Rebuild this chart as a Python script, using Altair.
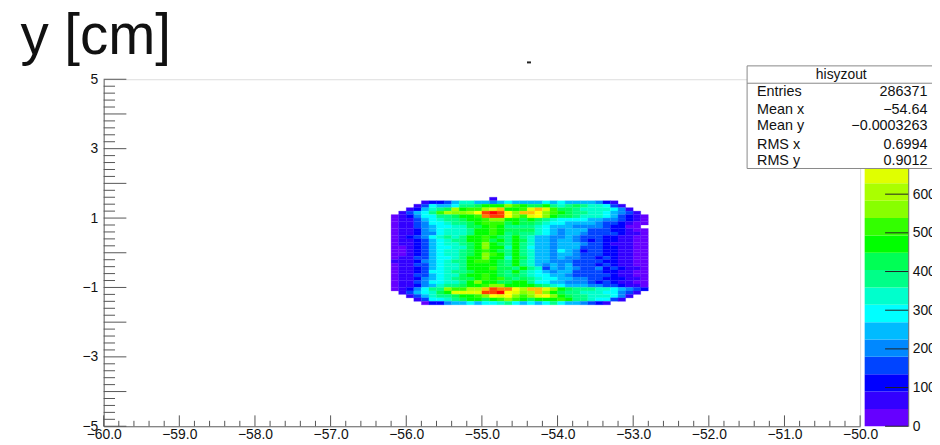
import altair as alt
import pandas as pd

# Contour level (base 20) of each 0.1 x 0.1 cm cell, row by row from the top; space = empty cell
ROWS = [
    "             1",
    "    12235775545655556565555421",
    "   1365568889aaacba99a87089",
    "  125789dabbdegaabege9987777641",
    " 135 ",
]
ROWS = [
    "             1",
    "    12235775545655556565555421",
    "   136556889aaacba99a878 98776 31".replace(" ", ""),
    "  125789dabbdegaabegeb9987777641",
    " 13568bdccdfijifcggfcba98877654 31".replace(" ", ""),
    "012466889aabhiifcbefca99877765 3210".replace(" ", ""),
    "0113567889aabccaa9a98766665544 3210".replace(" ", ""),
    "01134667889abbb9a99876655554 33 2100".replace(" ", ""),
    "0113456677 99aba88887655 54444 32 200".replace(" ", ""),
    "01124567778aaba9999765 45553332 2100".replace(" ", ""),
    "0112446777 8aaba8988765 45543333 2110".replace(" ", ""),
    "0123467878aaba98a8755445 433322 1100".replace(" ", ""),
    "01123567 88aab9a8a975545 5432 32211 00".replace(" ", ""),
    "011235677 89ac a98a87554 55543321 1100".replace(" ", ""),
    "0012356 6779ac aa7a865545553 3322 1100".replace(" ", ""),
    "00123567789ab a98a87554 654 233 2 21100".replace(" ", ""),
    "0012356778 9acba8a87554 55433 32 21100".replace(" ", ""),
    "0113356 678aac aa7a975 54 54433 2 321100".replace(" ", ""),
    "1112456 788abba98a87554 44 33332 21100".replace(" ", ""),
    "0113356 778aaaa98a875 45 4533 32 321100".replace(" ", ""),
    "011235677 8aaab998a87 35 4 54334 2 321100".replace(" ", ""),
    "0112366 788 9aaa98a8765 455 3333 2 21100".replace(" ", ""),
    "01133567 79aaba989876 6554 33333 21100".replace(" ", ""),
    "0112456 7899abab989876 6554 43 3222 1100".replace(" ", ""),
    "01134667 78acaa99aa8665 544 432 32 1100".replace(" ", ""),
    "0112457 889aabccaaaa9 87655 544 33 2110".replace(" ", ""),
    "0124688 cbbddgihhfdggeca98887 76 5 4321".replace(" ", ""),
    " 13567 9aeeeeiijfecdgca9887 7 7 6 6431".replace(" ", ""),
    "  1357889aabcfefcbcefca988777 641".replace(" ", ""),
    "   136678 9aa9abcba9aaaba8876631".replace(" ", ""),
    "    02245565667865656 865 5 4321".replace(" ", ""),
]
# keep the leading blanks of the partial rows (the replace above removes them)
LEAD = [13, 4, 3, 2, 1] + [0] * 22 + [1, 2, 3, 4]

COLORS = ["#6600ff", "#3300ff", "#0000ff", "#0044ff", "#0088ff", "#00bbff", "#00ffff",
          "#00ffcc", "#00ff88", "#00ff55", "#00ff00", "#33ff00", "#88ff00", "#aaff00",
          "#e0ff00", "#ffff00", "#ffc000", "#ff8000", "#ff4000", "#ff0000"]
LEVEL_STEP = 44.85
X_TICKS = [-60, -59, -58, -57, -56, -55, -54, -53, -52, -51, -50]
Y_TICKS = [-5, -4, -3, -2, -1, 0, 1, 2, 3, 4, 5]
Z_TICKS = [0, 100, 200, 300, 400, 500, 600]
STATS = [("Entries", "286371"), ("Mean x", "\u221254.64"), ("Mean y", "\u22120.0003263"),
         ("RMS x", "0.6994"), ("RMS y", "0.9012")]

cells = []
for r, row in enumerate(ROWS):
    s = row.strip()
    for c, ch in enumerate(s):
        col = LEAD[r] + c
        if col > 33:
            continue
        cells.append({"x0": -56.2 + col * 0.1, "x1": -56.1 + col * 0.1,
                      "y1": 1.6 - r * 0.1, "y0": 1.5 - r * 0.1,
                      "count": (int(ch, 20) + 0.5) * LEVEL_STEP})
cells = pd.DataFrame(cells)

thresholds = [LEVEL_STEP * i for i in range(1, 20)]
color = alt.Color("count:Q", scale=alt.Scale(type="threshold", domain=thresholds, range=COLORS), legend=None)

x_scale = alt.Scale(domain=[-60, -50], nice=False, zero=False)
y_scale = alt.Scale(domain=[-5, 5], nice=False, zero=False)
z_scale = alt.Scale(domain=[0, 897], nice=False, zero=False)

heat = alt.Chart(cells).mark_rect(strokeWidth=0.25).encode(
    x=alt.X("x0:Q", scale=x_scale, axis=alt.Axis(
        values=X_TICKS, title=None, grid=False, ticks=False, labelFontSize=14, labelColor="#111",
        labelFont="Liberation Sans", labelPadding=1, domainColor="#666", labelFlush=False, labelOverlap=False)),
    x2="x1:Q",
    y=alt.Y("y0:Q", scale=y_scale, axis=alt.Axis(
        values=Y_TICKS, title=None, grid=False, ticks=False, labelFontSize=14, labelColor="#111",
        labelFont="Liberation Sans", labelPadding=6, domainColor="#666", labelFlush=False, labelOverlap=False)),
    y2="y1:Q",
    color=color,
    stroke=alt.Stroke("count:Q", scale=alt.Scale(type="threshold", domain=thresholds, range=COLORS), legend=None),
)

xt = pd.DataFrame({"v": [-60 + 0.2 * i for i in range(51)]})
xt["e"] = [-5 + (0.314 if i % 5 == 0 else 0.157) for i in range(51)]
xt["b"] = -5
yt = pd.DataFrame({"v": [-5 + 0.2 * i for i in range(51)]})
yt["e"] = [-60 + (0.3 if i % 5 == 0 else 0.15) for i in range(51)]
yt["b"] = -60
x_ticks = alt.Chart(xt).mark_rule(color="#555", strokeWidth=1).encode(
    x=alt.X("v:Q", scale=x_scale), y=alt.Y("b:Q", scale=y_scale), y2="e:Q")
y_ticks = alt.Chart(yt).mark_rule(color="#555", strokeWidth=1).encode(
    y=alt.Y("v:Q", scale=y_scale), x=alt.X("b:Q", scale=x_scale), x2="e:Q")

one = pd.DataFrame({"a": [0]})


def px_text(text, x, y, **kw):
    return alt.Chart(one).mark_text(font="Liberation Sans", color="#111", **kw).encode(
        x=alt.value(x), y=alt.value(y), text=alt.value(text))


title = px_text("y [cm]", -84, -25, fontSize=57, align="left", baseline="alphabetic")
dash = alt.Chart(one).mark_rule(color="#222", strokeWidth=2).encode(
    x=alt.value(427), x2=alt.value(431), y=alt.value(-17))
box = alt.Chart(one).mark_rect(fill="white", stroke="#888", strokeWidth=1).encode(
    x=alt.value(649), x2=alt.value(840), y=alt.value(-13.5), y2=alt.value(90))
box_line = alt.Chart(one).mark_rule(color="#888", strokeWidth=1).encode(
    x=alt.value(649), x2=alt.value(840), y=alt.value(4))
stat_layers = [px_text("hisyzout", 744, -4, fontSize=14, align="center", baseline="middle")]
for (name, val), yy in zip(STATS, [13, 31, 47, 66, 82]):
    stat_layers.append(px_text(name, 659, yy, fontSize=14.5, align="left", baseline="middle"))
    stat_layers.append(px_text(val, 831, yy, fontSize=14.5, align="right", baseline="middle"))

bar = pd.DataFrame({"z0": [LEVEL_STEP * i for i in range(20)], "z1": [LEVEL_STEP * (i + 1) for i in range(20)]})
bar["count"] = bar["z0"] + 1
bar["a"] = -49.94
bar["b"] = -49.365
colorbar = alt.Chart(bar).mark_rect().encode(
    x=alt.X("a:Q", scale=x_scale), x2="b:Q",
    y=alt.Y("z0:Q", scale=z_scale, axis=alt.Axis(
        orient="right", offset=48.5, values=Z_TICKS, title=None, grid=False, ticks=False,
        labelFontSize=14, labelColor="#111", labelFont="Liberation Sans", labelPadding=4,
        domainColor="#555", labelFlush=False, labelOverlap=False)),
    y2="z1:Q",
    color=color,
)
zt = pd.DataFrame({"z": Z_TICKS})
zt["a"] = -49.67
zt["b"] = -49.365
z_ticks = alt.Chart(zt).mark_rule(color="#222", strokeWidth=1).encode(
    x=alt.X("a:Q", scale=x_scale), x2="b:Q", y=alt.Y("z:Q", scale=z_scale))

main_layer = alt.layer(heat, x_ticks, y_ticks, title, dash)
bar_layer = alt.layer(colorbar, z_ticks)
over = alt.layer(box, box_line, *stat_layers)

chart = alt.layer(main_layer, bar_layer, over).resolve_scale(y="independent").properties(
    width=763, height=350,
    autosize=alt.AutoSizeParams(type="none", contains="content"),
    padding={"left": 96.5, "top": 70, "right": 72.5, "bottom": 15},
).configure_view(stroke="#a0a0a0", strokeWidth=1.5).configure(background="white")

chart.save("out.html", embed_options={"renderer": "svg", "actions": False})
